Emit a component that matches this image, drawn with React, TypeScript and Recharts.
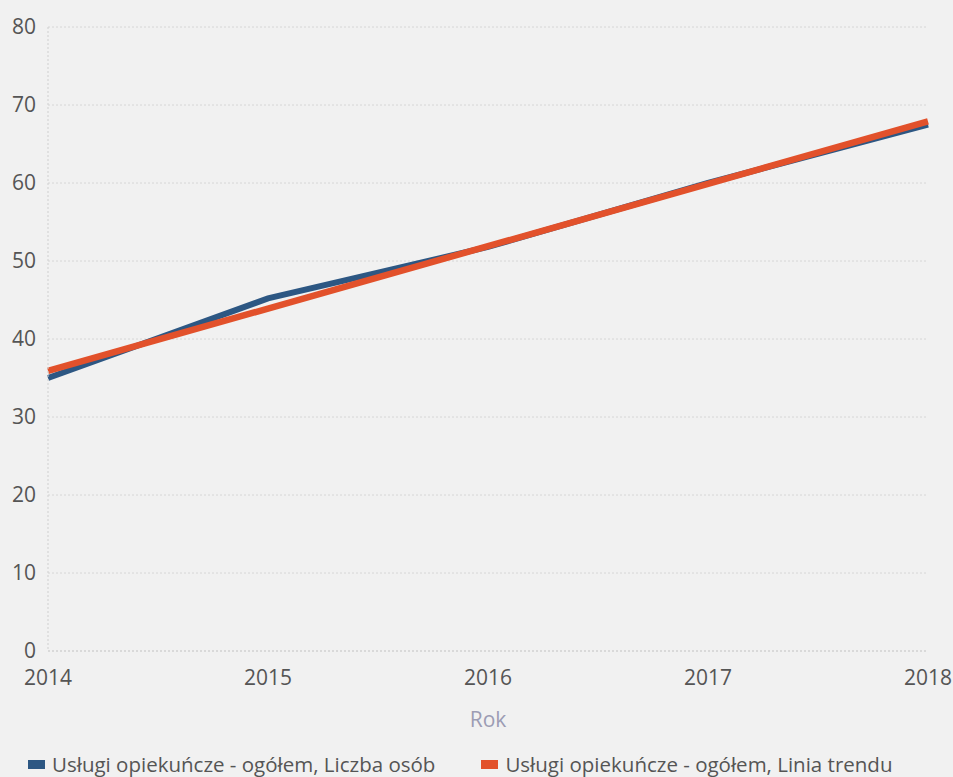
import { LineChart, Line, XAxis, YAxis, CartesianGrid, Legend } from 'recharts'

const years = [2014, 2015, 2016, 2017, 2018]
const liczbaOsob = [35, 45.2, 51.8, 60, 67.5]
const liniaTrendu = [35.9, 43.9, 51.9, 59.9, 67.9]
const yTicks = [0, 10, 20, 30, 40, 50, 60, 70, 80]

const seriesNames = [
  'Usługi opiekuńcze - ogółem, Liczba osób',
  'Usługi opiekuńcze - ogółem, Linia trendu',
]
const colors = ['#2d5783', '#e2512b']

const chartData = years.map((year, i) => ({
  year,
  liczba: liczbaOsob[i],
  trend: liniaTrendu[i],
}))

const font = '"Open Sans", "Noto Sans", sans-serif'

const CustomLegend = () => (
  <div style={{ display: 'flex', justifyContent: 'flex-start', paddingLeft: 28, gap: 46, fontFamily: font, fontSize: 20.5, color: '#555', lineHeight: '26px', paddingTop: 2 }}>
    {seriesNames.map((name, i) => (
      <div key={name} style={{ display: 'flex', alignItems: 'center' }}>
        <span style={{ display: 'inline-block', width: 17, height: 9, background: colors[i], marginRight: 7 }} />
        <span>{name}</span>
      </div>
    ))}
  </div>
)

export default function App() {
  return (
    <div style={{ position: 'absolute', left: 0, top: 0, width: 953, height: 777, background: '#f1f1f1' }}>
      <LineChart width={953} height={777} data={chartData} margin={{ top: 27, right: 25, left: 0, bottom: 0 }}>
        <CartesianGrid vertical={false} stroke="#d6d6d6" strokeDasharray="2 2" />
        <XAxis
          dataKey="year"
          type="number"
          domain={[2014, 2018]}
          ticks={years}
          axisLine={{ stroke: '#cfcfcf', strokeDasharray: '2 2' }}
          tickLine={false}
          tickSize={0}
          tickMargin={19}
          tick={{ fill: '#555', fontSize: 21, fontFamily: font }}
          height={98}
          label={{ value: 'Rok', position: 'insideBottom', offset: 22, fill: '#9c9cb4', fontSize: 21, fontFamily: font }}
        />
        <YAxis
          domain={[0, 80]}
          ticks={yTicks}
          width={48}
          axisLine={{ stroke: '#cfcfcf', strokeDasharray: '2 2' }}
          tickLine={false}
          tickSize={0}
          tickMargin={12}
          tick={{ fill: '#555', fontSize: 21, fontFamily: font }}
        />
        <Legend verticalAlign="bottom" content={<CustomLegend />} wrapperStyle={{ bottom: 0, height: 28 }} />
        <Line type="linear" dataKey="liczba" name={seriesNames[0]} stroke={colors[0]} strokeWidth={6} dot={false} isAnimationActive={false} />
        <Line type="linear" dataKey="trend" name={seriesNames[1]} stroke={colors[1]} strokeWidth={6.5} dot={false} isAnimationActive={false} />
      </LineChart>
    </div>
  )
}
